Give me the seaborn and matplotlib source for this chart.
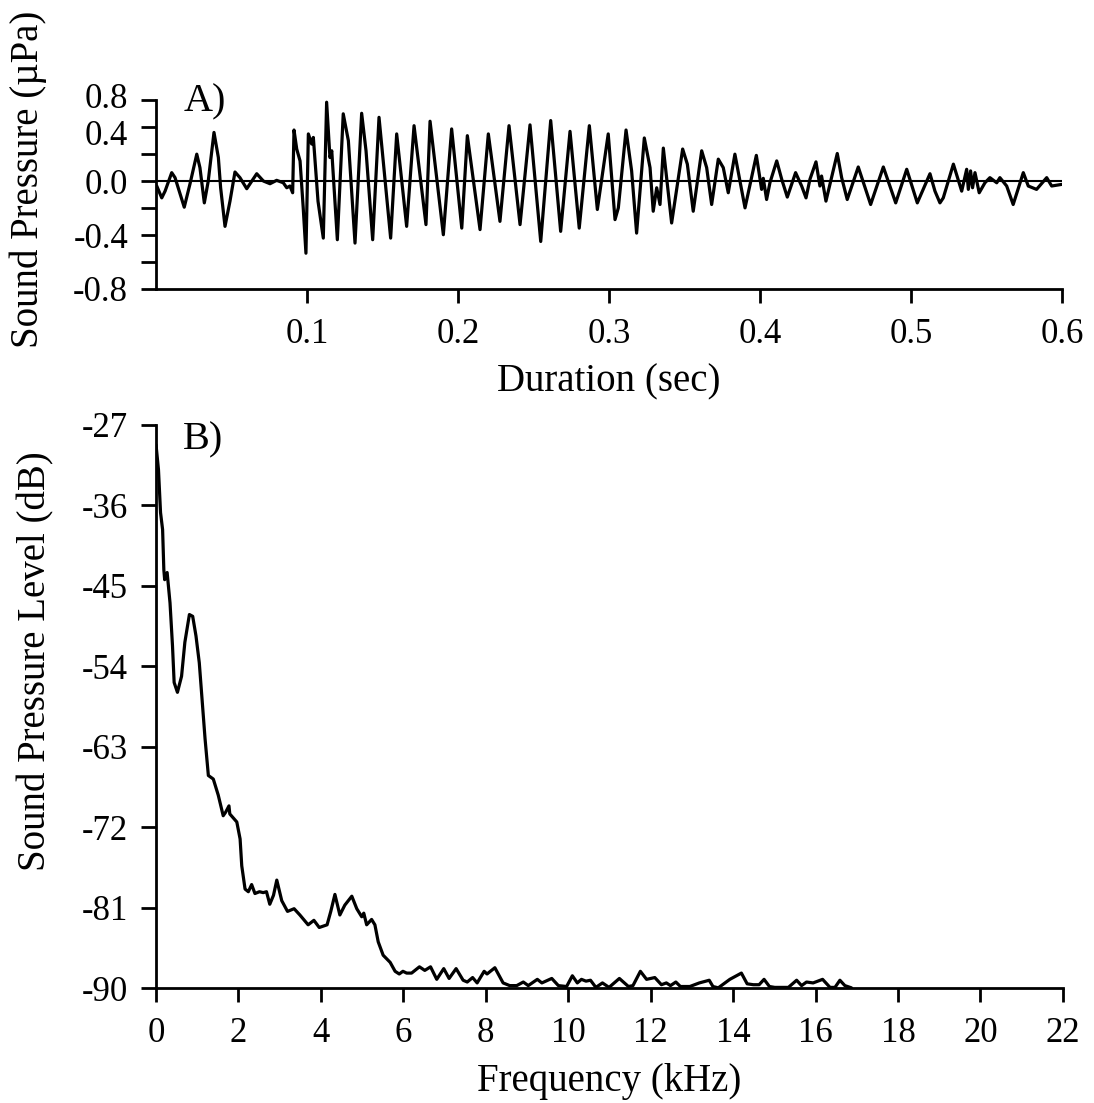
import matplotlib
matplotlib.use("Agg")
import matplotlib.pyplot as plt
import matplotlib.transforms as mtransforms
import seaborn as sns
import pandas as pd
from matplotlib.ticker import FixedLocator

# --------------------
# Data
# --------------------
# A) waveform: time (s) and sound pressure (uPa)
wave_t = [0.0005, 0.0038, 0.0060, 0.0104, 0.0126, 0.0187, 0.0225, 0.0270, 0.0291, 0.0320,
          0.0346, 0.0384, 0.0413, 0.0428, 0.0457, 0.0490, 0.0523, 0.0556, 0.0601, 0.0667,
          0.0711, 0.0755, 0.0799, 0.0843, 0.0866, 0.0887, 0.0905, 0.0914, 0.0932, 0.0954,
          0.0975, 0.0993, 0.1009, 0.1031, 0.1042, 0.1073, 0.1108, 0.1130, 0.1152, 0.1164,
          0.1201, 0.1240, 0.1274, 0.1318, 0.1362, 0.1391, 0.1435, 0.1477, 0.1554, 0.1594,
          0.1660, 0.1709, 0.1788, 0.1815, 0.1903, 0.1958, 0.2025, 0.2062, 0.2146, 0.2201,
          0.2278, 0.2338, 0.2411, 0.2477, 0.2548, 0.2614, 0.2680, 0.2742, 0.2803, 0.2870,
          0.2923, 0.2995, 0.3040, 0.3062, 0.3113, 0.3150, 0.3183, 0.3234, 0.3272, 0.3293,
          0.3316, 0.3338, 0.3360, 0.3415, 0.3488, 0.3519, 0.3558, 0.3614, 0.3647, 0.3680,
          0.3724, 0.3757, 0.3790, 0.3834, 0.3901, 0.3976, 0.4011, 0.4022, 0.4044, 0.4066,
          0.4111, 0.4144, 0.4181, 0.4236, 0.4276, 0.4305, 0.4331, 0.4371, 0.4397, 0.4408,
          0.4437, 0.4512, 0.4541, 0.4578, 0.4651, 0.4733, 0.4817, 0.4899, 0.4972, 0.5042,
          0.5126, 0.5159, 0.5192, 0.5214, 0.5281, 0.5336, 0.5369, 0.5380, 0.5395, 0.5408,
          0.5424, 0.5452, 0.5490, 0.5523, 0.5568, 0.5589, 0.5634, 0.5677, 0.5744, 0.5777,
          0.5832, 0.5899, 0.5932, 0.5998]
wave_p = [-0.037, -0.125, -0.075, 0.062, 0.025, -0.194, -0.022, 0.199, 0.099, -0.162,
          0.000, 0.360, 0.174, -0.050, -0.336, -0.149, 0.067, 0.025, -0.057, 0.054,
          0.000, -0.020, 0.005, -0.013, -0.050, -0.037, -0.087, 0.378, 0.237, 0.149,
          -0.199, -0.535, 0.349, 0.274, 0.323, -0.150, -0.423, 0.584, 0.174, 0.224,
          -0.435, 0.498, 0.299, -0.460, 0.502, 0.224, -0.435, 0.472, -0.423, 0.349,
          -0.336, 0.410, -0.323, 0.443, -0.398, 0.386, -0.349, 0.336, -0.360, 0.349,
          -0.299, 0.410, -0.323, 0.416, -0.448, 0.448, -0.373, 0.368, -0.349, 0.410,
          -0.211, 0.349, -0.286, -0.199, 0.378, 0.075, -0.386, 0.319, 0.099, -0.224,
          -0.050, -0.174, 0.244, -0.311, 0.237, 0.125, -0.224, 0.224, 0.099, -0.174,
          0.162, 0.099, -0.087, 0.199, -0.199, 0.190, -0.062, 0.020, -0.137, -0.013,
          0.149, 0.013, -0.119, 0.062, -0.037, -0.125, 0.013, 0.142, -0.037, 0.037,
          -0.149, 0.204, 0.025, -0.137, 0.104, -0.174, 0.104, -0.162, 0.087, -0.162,
          0.054, -0.075, -0.162, -0.125, 0.125, -0.075, 0.087, -0.062, 0.075, -0.050,
          0.062, -0.087, -0.013, 0.025, -0.013, 0.025, -0.037, -0.174, 0.062, -0.037,
          -0.062, 0.025, -0.037, -0.025]

# B) spectrum: frequency (kHz) and level (dB)
spec_f = [0.00, 0.06, 0.11, 0.16, 0.19, 0.21, 0.27, 0.34, 0.40, 0.44, 0.52, 0.62, 0.70,
          0.81, 0.89, 0.97, 1.05, 1.11, 1.19, 1.27, 1.39, 1.51, 1.63, 1.69, 1.77, 1.79,
          1.96, 2.04, 2.08, 2.16, 2.24, 2.32, 2.40, 2.51, 2.60, 2.68, 2.76, 2.85, 2.93,
          3.05, 3.19, 3.35, 3.49, 3.69, 3.83, 3.96, 4.15, 4.24, 4.34, 4.46, 4.58, 4.75,
          4.87, 4.99, 5.04, 5.11, 5.23, 5.31, 5.39, 5.51, 5.68, 5.80, 5.90, 5.99, 6.08,
          6.20, 6.39, 6.52, 6.66, 6.81, 6.98, 7.11, 7.28, 7.45, 7.55, 7.68, 7.79, 7.96,
          8.03, 8.22, 8.42, 8.58, 8.75, 8.91, 9.03, 9.25, 9.36, 9.60, 9.76, 9.96, 10.10,
          10.22, 10.32, 10.43, 10.54, 10.67, 10.83, 10.99, 11.24, 11.46, 11.57, 11.75,
          11.90, 12.10, 12.26, 12.38, 12.48, 12.61, 12.72, 12.95, 13.18, 13.42, 13.51,
          13.64, 13.80, 13.92, 14.04, 14.20, 14.34, 14.49, 14.63, 14.75, 14.88, 15.01,
          15.34, 15.54, 15.66, 15.78, 15.94, 16.17, 16.35, 16.47, 16.59, 16.71, 16.87]
spec_db = [-29.2, -32.0, -36.8, -38.7, -43.2, -44.3, -43.5, -46.9, -51.7, -55.8, -56.9,
           -55.1, -51.3, -48.2, -48.4, -50.6, -53.6, -57.3, -62.1, -66.2, -66.6, -68.4,
           -70.7, -70.3, -69.6, -70.5, -71.4, -73.3, -76.3, -78.9, -79.2, -78.4, -79.4,
           -79.2, -79.3, -79.2, -80.6, -79.6, -77.9, -80.2, -81.4, -81.1, -81.8, -82.9,
           -82.4, -83.2, -82.9, -81.4, -79.5, -81.8, -80.7, -79.7, -81.1, -82.0, -81.6,
           -82.9, -82.3, -82.9, -84.8, -86.3, -87.1, -88.1, -88.4, -88.1, -88.3, -88.3,
           -87.6, -88.0, -87.6, -89.0, -87.8, -88.9, -87.8, -89.1, -89.3, -88.8, -89.4,
           -88.1, -88.4, -87.7, -89.4, -89.7, -89.7, -89.3, -89.7, -89.0, -89.4, -88.9,
           -89.7, -89.8, -88.6, -89.4, -89.0, -89.2, -89.1, -89.9, -89.4, -89.9, -88.9,
           -89.8, -89.7, -88.1, -89.0, -88.8, -89.6, -89.4, -89.7, -89.3, -89.8, -89.8,
           -89.4, -89.1, -89.8, -89.95, -89.4, -89.0, -88.7, -88.3, -89.5, -89.6, -89.6,
           -89.0, -89.8, -89.9, -89.9, -89.1, -89.7, -89.3, -89.4, -89.0, -89.9, -89.9,
           -89.1, -89.7, -89.95]

wave_yticks = [-0.8, -0.4, 0.0, 0.4, 0.6]
wave_ylabels = ["-0.8", "-0.4", "0.0", "0.4", "0.8"]
wave_xticks = [0.1, 0.2, 0.3, 0.4, 0.5, 0.6]
spec_yticks = [-90, -81, -72, -63, -54, -45, -36, -27]
spec_xticks = list(range(0, 23, 2))

# --------------------
# Style
# --------------------
sns.set_theme(style="ticks")
plt.rcParams["font.family"] = ["Liberation Serif", "DejaVu Serif"]
plt.rcParams.update({
    "axes.unicode_minus": False,
    "axes.linewidth": 2.0,
    "xtick.major.width": 2.0,
    "ytick.major.width": 2.0,
    "ytick.minor.width": 2.0,
    "xtick.major.size": 10,
    "ytick.major.size": 11,
    "ytick.minor.size": 11,
    "xtick.major.pad": 11,
    "ytick.major.pad": 9,
    "xtick.labelsize": 25,
    "ytick.labelsize": 25,
    "axes.labelsize": 28,
    "text.color": "black",
    "axes.labelcolor": "black",
    "xtick.color": "black",
    "ytick.color": "black",
    "axes.edgecolor": "black",
})

fig = plt.figure(figsize=(10.94, 11.03), dpi=100)
ax1 = fig.add_axes([0.1426, 0.738, 0.8281, 0.1713])
ax2 = fig.add_axes([0.1426, 0.1040, 0.8290, 0.5107])

# A) waveform
wave = pd.DataFrame({"t": wave_t, "p": wave_p})
ax1.axhline(0, color="black", lw=1.5, zorder=1)
sns.lineplot(data=wave, x="t", y="p", ax=ax1, color="black", lw=2.3,
             estimator=None, sort=False, zorder=2)
ax1.set_xlim(0, 0.6)
ax1.set_ylim(-0.8, 0.6)
ax1.yaxis.set_major_locator(FixedLocator(wave_yticks))
ax1.set_yticklabels(wave_ylabels)
ax1.yaxis.set_minor_locator(FixedLocator([-0.6, -0.2, 0.2]))
ax1.xaxis.set_major_locator(FixedLocator(wave_xticks))
ax1.set_xticklabels([f"{v:.1f}" for v in wave_xticks])
ax1.set_xlabel("Duration (sec)", labelpad=9)
ax1.set_ylabel("Sound Pressure (µPa)")
ax1.yaxis.set_label_coords(-0.12, 0.58)
ax1.text(0.03, 0.99, "A)", transform=ax1.transAxes, fontsize=29,
         ha="left", va="center")
sns.despine(ax=ax1)

# the two top labels sit close together, nudge them apart a little
ylabs = ax1.get_yticklabels()
for lab, dy in [(ylabs[3], -4), (ylabs[4], 3)]:
    lab.set_transform(lab.get_transform() +
                      mtransforms.ScaledTranslation(0, dy / 72, fig.dpi_scale_trans))

# B) spectrum
spec = pd.DataFrame({"f": spec_f, "db": spec_db})
sns.lineplot(data=spec, x="f", y="db", ax=ax2, color="black", lw=2.3,
             estimator=None, sort=False)
ax2.set_xlim(0, 22)
ax2.set_ylim(-90, -27)
ax2.yaxis.set_major_locator(FixedLocator(spec_yticks))
ax2.xaxis.set_major_locator(FixedLocator(spec_xticks))
ax2.set_xlabel("Frequency (kHz)", labelpad=9)
ax2.set_ylabel("Sound Pressure Level (dB)")
ax2.yaxis.set_label_coords(-0.112, 0.58)
ax2.text(0.03, 0.973, "B)", transform=ax2.transAxes, fontsize=29,
         ha="left", va="center")
sns.despine(ax=ax2)

fig.savefig("out.png", dpi=100)
